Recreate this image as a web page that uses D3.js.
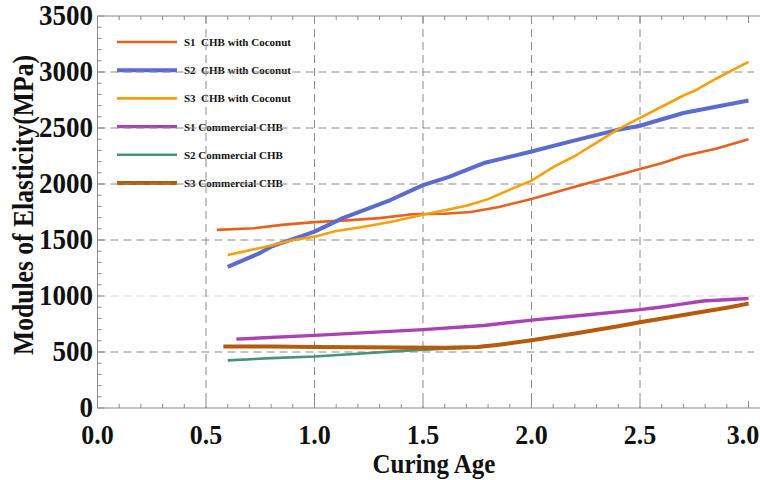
<!DOCTYPE html>
<html>
<head>
<meta charset="utf-8">
<script src="https://cdn.jsdelivr.net/npm/d3@7"></script>
<style>
  body { margin: 0; background: #fff; }
  text { font-family: "Liberation Serif", "Times New Roman", serif; font-weight: bold; fill: #111; }
</style>
</head>
<body>
<script>
// Data (curing age vs modulus of elasticity, MPa)
var s1CocoAge = [0.55, 0.72, 0.85, 1.0, 1.15, 1.3, 1.45, 1.6, 1.72, 1.85, 2.0, 2.2, 2.4, 2.5, 2.6, 2.7, 2.85, 3.0];
var s1CocoMoE = [1590, 1605, 1635, 1660, 1675, 1695, 1730, 1735, 1750, 1795, 1866, 1975, 2080, 2134, 2185, 2250, 2315, 2400];

var s2CocoAge = [0.6, 0.75, 0.8, 1.0, 1.13, 1.35, 1.5, 1.62, 1.78, 2.0, 2.2, 2.4, 2.5, 2.7, 3.0];
var s2CocoMoE = [1260, 1385, 1440, 1575, 1695, 1857, 1990, 2063, 2187, 2290, 2390, 2485, 2520, 2634, 2745];

var s3CocoAge = [0.6, 0.8, 0.9, 1.0, 1.1, 1.2, 1.35, 1.5, 1.7, 1.8, 1.9, 2.0, 2.1, 2.2, 2.3, 2.4, 2.5, 2.6, 2.7, 2.75, 2.85, 3.0];
var s3CocoMoE = [1366, 1450, 1500, 1530, 1580, 1610, 1660, 1725, 1805, 1865, 1950, 2030, 2150, 2250, 2370, 2490, 2590, 2690, 2790, 2830, 2940, 3090];

var s1CommAge = [0.64, 1.0, 1.5, 1.78, 2.0, 2.25, 2.5, 2.6, 2.7, 2.79, 3.0];
var s1CommMoE = [615, 648, 700, 737, 785, 830, 878, 902, 930, 955, 978];

var s2CommAge = [0.6, 0.8, 1.0, 1.2, 1.4, 1.6, 1.75, 1.85, 2.0, 2.2, 2.4, 2.5, 2.7, 2.9, 3.0];
var s2CommMoE = [425, 445, 460, 485, 510, 530, 540, 565, 605, 665, 730, 765, 830, 895, 935];

var s3CommAge = [0.58, 0.8, 1.0, 1.2, 1.4, 1.6, 1.75, 1.85, 2.0, 2.2, 2.4, 2.5, 2.7, 2.9, 3.0];
var s3CommMoE = [550, 548, 545, 543, 540, 538, 545, 565, 605, 665, 730, 765, 830, 895, 932];

var seriesNames = ["S1  CHB with Coconut", "S2  CHB with Coconut", "S3  CHB with Coconut",
                   "S1 Commercial CHB", "S2 Commercial CHB", "S3 Commercial CHB"];
var xTicks = [0, 0.5, 1.0, 1.5, 2.0, 2.5, 3.0];
var yTicks = [0, 500, 1000, 1500, 2000, 2500, 3000, 3500];

var seriesAges = [s1CocoAge, s2CocoAge, s3CocoAge, s1CommAge, s2CommAge, s3CommAge];
var seriesVals = [s1CocoMoE, s2CocoMoE, s3CocoMoE, s1CommMoE, s2CommMoE, s3CommMoE];
var colors = ["#e8601c", "#5b6bd0", "#f5a00c", "#a942b4", "#4a9274", "#b65a0c"];
var widths = [2.6, 4, 2.6, 3.4, 2.6, 4];

/* ------------------------------ Drawing ------------------------------*/
var width = 760, height = 480;
// plot frame (note: "top" is reserved on window, so use plot* names)
var plotLeft = 97.5, plotTop = 16, plotBottom = 408, plotRight = 761;

var x = d3.scaleLinear().domain([0, 3]).range([plotLeft, 748.5]);
var y = d3.scaleLinear().domain([0, 3500]).range([plotBottom, plotTop]);

var svg = d3.select("body").append("svg")
    .attr("width", width)
    .attr("height", height);

// legend (drawn first so grid dashes run over it like in the original)
var legend = svg.append("g");
seriesNames.forEach(function(name, i) {
  var ly = 42 + i * 28.2;
  legend.append("line")
      .attr("x1", 117).attr("x2", 177)
      .attr("y1", ly).attr("y2", ly)
      .attr("stroke", colors[i])
      .attr("stroke-width", widths[i]);
  legend.append("text")
      .attr("x", 184).attr("y", ly + 4)
      .style("font-size", "11px")
      .style("white-space", "pre")
      .text(name);
});

// grid lines
var grid = svg.append("g").attr("stroke-dasharray", "8,5").attr("stroke-width", 1);
yTicks.filter(function(d) { return d > 0 && d < 3500; }).forEach(function(d) {
  grid.append("line")
      .attr("x1", plotLeft).attr("x2", 754)
      .attr("y1", y(d)).attr("y2", y(d))
      .attr("stroke", d === 1000 ? "#d4d4d4" : "#8a8a8a");
});
xTicks.filter(function(d) { return d > 0 && d < 3; }).forEach(function(d) {
  grid.append("line")
      .attr("x1", x(d)).attr("x2", x(d))
      .attr("y1", plotTop).attr("y2", plotBottom)
      .attr("stroke", "#8a8a8a");
});

// frame: left, bottom and top edges with inward ticks
var frame = svg.append("g").attr("stroke", "#8a8a8a").attr("stroke-width", 1).attr("fill", "none");
frame.append("path").attr("d", "M" + plotRight + "," + plotTop + "H" + plotLeft + "V" + plotBottom + "H" + plotRight);

d3.range(0, 3501, 100).forEach(function(v) {
  var len = (v % 500 === 0) ? 7 : 4;
  frame.append("line").attr("x1", plotLeft).attr("x2", plotLeft + len).attr("y1", y(v)).attr("y2", y(v));
});
d3.range(0, 31).forEach(function(k) {
  var v = k / 10;
  var len = (k % 5 === 0) ? 7 : 4;
  frame.append("line").attr("x1", x(v)).attr("x2", x(v)).attr("y1", plotBottom).attr("y2", plotBottom - len);
  frame.append("line").attr("x1", x(v)).attr("x2", x(v)).attr("y1", plotTop).attr("y2", plotTop + len);
});

// tick labels (the original glyphs are a bit taller than Liberation Serif)
svg.append("g").selectAll("text").data(yTicks).enter().append("text")
    .attr("transform", function(d) { return "translate(93," + (y(d) - 1) + ") scale(1,1.08)"; })
    .attr("dy", "0.34em")
    .attr("text-anchor", "end")
    .style("font-size", "27px")
    .text(function(d) { return d; });

svg.append("g").selectAll("text").data(xTicks).enter().append("text")
    .attr("transform", function(d) { return "translate(" + Math.min(x(d), 743) + ",444) scale(1,1.08)"; })
    .attr("text-anchor", "middle")
    .style("font-size", "26px")
    .text(function(d) { return d3.format(".1f")(d); });

// axis titles
svg.append("text")
    .attr("transform", "translate(434,473) scale(1,1.08)")
    .attr("text-anchor", "middle")
    .style("font-size", "25px")
    .text("Curing Age");

svg.append("text")
    .attr("transform", "translate(33,205) rotate(-90) scale(1,1.15)")
    .attr("text-anchor", "middle")
    .style("font-size", "25.6px")
    .text("Modules of Elasticity(MPa)");

// data lines
var line = d3.line()
    .x(function(d) { return x(d[0]); })
    .y(function(d) { return y(d[1]); });

seriesAges.forEach(function(ages, i) {
  var pts = ages.map(function(a, j) { return [a, seriesVals[i][j]]; });
  svg.append("path")
      .attr("d", line(pts))
      .attr("fill", "none")
      .attr("stroke", colors[i])
      .attr("stroke-width", widths[i])
      .attr("stroke-linejoin", "round");
});
</script>
</body>
</html>
